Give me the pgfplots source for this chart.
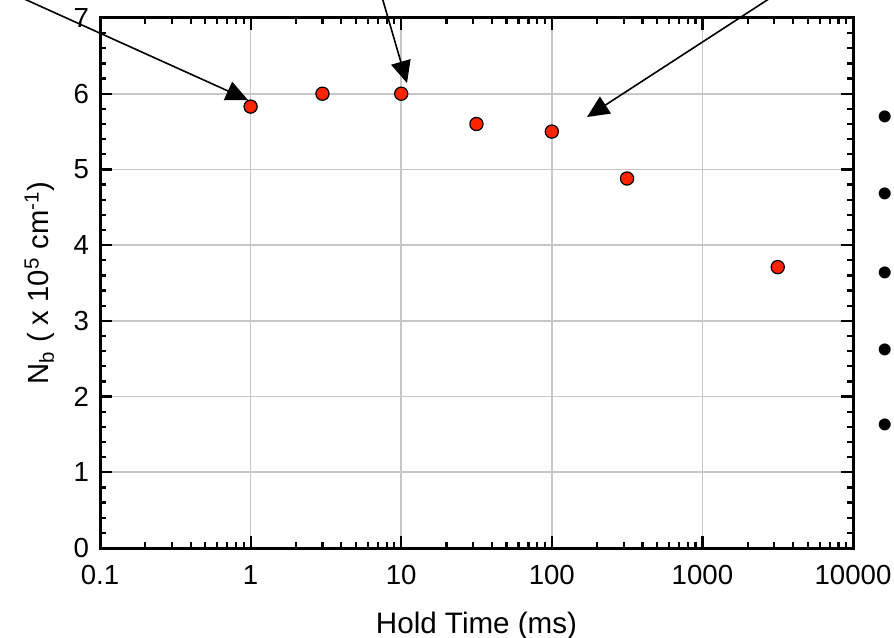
\documentclass[border=0pt]{standalone}
\usepackage{fontspec}
\setmainfont{Liberation Sans}
\usepackage{pgfplots}
\pgfplotsset{compat=1.18}
\usetikzlibrary{arrows.meta}

\begin{document}
\begin{tikzpicture}[x=1bp,y=1bp,font=\fontsize{13.5bp}{16bp}\selectfont]
\useasboundingbox (0,0) rectangle (447,318.5);
\begin{axis}[
  at={(50bp,44.5bp)}, anchor=south west,
  scale only axis, width=376.5bp, height=265bp,
  xmode=log, xmin=0.1, xmax=10000, ymin=0, ymax=7,
  xtick={0.1,1,10,100,1000,10000},
  xticklabels={0.1,1,10,100,1000,10000},
  ytick={0,1,2,3,4,5,6,7},
  minor y tick num=4,
  tick align=inside,
  major tick length=6bp, minor tick length=3bp,
  every tick/.style={black, line width=1.1bp},
  axis line style={line width=1.5bp},
  grid=major,
  major grid style={black!22, line width=0.8bp},
  /pgf/number format/assume math mode=true,
  tick label style={font=\fontsize{13.8bp}{16bp}\selectfont},
  xticklabel style={yshift=-5bp},
  yticklabel style={xshift=-2bp},
  xlabel={Hold Time (ms)},
  xlabel style={font=\fontsize{14.8bp}{17bp}\selectfont, at={(axis description cs:0.5,-0.146)}, anchor=center},
  ylabel={N\textsubscript{b} ( x 10\textsuperscript{5} cm\textsuperscript{-1})},
  ylabel style={font=\fontsize{14.6bp}{17bp}\selectfont, at={(axis description cs:-0.08,0.5)}, anchor=center},
]
\addplot[only marks, mark=*, mark size=3.3bp,
  mark options={fill={rgb,255:red,255;green,36;blue,0}, draw=black, line width=0.6bp}]
  coordinates {(1,5.83) (3,6.0) (10,6.0) (31.6,5.6) (100,5.5) (316,4.88) (3162,3.71)};
\end{axis}
\begin{scope}
\clip (0,0) rectangle (447,318.5);
\draw[line width=0.8bp, -{Triangle[length=11bp,width=10bp]}] (-10,329) -- (124,268.5);
\draw[line width=0.8bp, -{Triangle[length=11bp,width=10bp]}] (188.5,328.5) -- (203.5,277);
\draw[line width=0.8bp, -{Triangle[length=11bp,width=10bp]}] (399,328.5) -- (293.5,260);
\end{scope}
\foreach \yy in {257.7,219.2,179.7,141.2,103.7} {
  \node[inner sep=0pt, font=\fontsize{22bp}{24bp}\selectfont] at (442.8,\yy) {\textbullet};
}
\end{tikzpicture}
\end{document}
